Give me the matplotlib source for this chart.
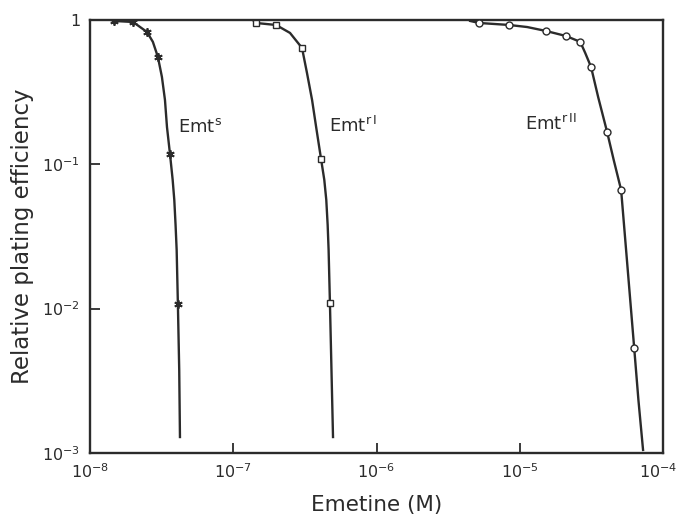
import matplotlib.pyplot as plt
import matplotlib.transforms as mtransforms

# measured points (emetine concentration in M, relative plating efficiency)
s_x = [1.47e-8, 2.0e-8, 2.5e-8, 2.98e-8, 3.62e-8, 4.11e-8]
s_y = [0.984, 0.968, 0.826, 0.555, 0.118, 0.0108]

r1_x = [1.44e-7, 1.99e-7, 3.02e-7, 4.10e-7, 4.73e-7]
r1_y = [0.953, 0.923, 0.640, 0.109, 0.0109]

r2_x = [5.2e-6, 8.41e-6, 1.52e-5, 2.1e-5, 2.64e-5, 3.14e-5, 4.06e-5, 5.09e-5, 6.28e-5]
r2_y = [0.953, 0.923, 0.839, 0.774, 0.705, 0.472, 0.168, 0.0664, 5.33e-3]

# hand drawn curves
s_cx = [1.4e-8, 1.47e-8, 2.0e-8, 2.5e-8, 2.75e-8, 2.98e-8, 3.18e-8, 3.34e-8, 3.45e-8,
        3.62e-8, 3.78e-8, 3.88e-8, 3.96e-8, 4.03e-8, 4.11e-8, 4.20e-8, 4.25e-8]
s_cy = [1.0, 0.984, 0.968, 0.826, 0.705, 0.555, 0.403, 0.279, 0.181,
        0.118, 0.078, 0.0566, 0.038, 0.0255, 0.0108, 3.75e-3, 1.29e-3]

r1_cx = [1.37e-7, 1.44e-7, 1.99e-7, 2.49e-7, 3.02e-7, 3.27e-7, 3.55e-7, 3.79e-7,
         4.10e-7, 4.32e-7, 4.46e-7, 4.56e-7, 4.63e-7, 4.73e-7, 4.97e-7]
r1_cy = [1.0, 0.953, 0.923, 0.813, 0.640, 0.430, 0.279, 0.181,
         0.109, 0.078, 0.0567, 0.038, 0.0255, 0.0109, 1.29e-3]

r2_cx = [4.5e-6, 5.2e-6, 8.41e-6, 1.125e-5, 1.52e-5, 2.1e-5, 2.64e-5, 2.86e-5, 3.14e-5,
         3.52e-5, 4.06e-5, 4.52e-5, 5.09e-5, 5.64e-5, 6.28e-5, 6.72e-5, 7.24e-5]
r2_cy = [0.984, 0.953, 0.923, 0.893, 0.839, 0.774, 0.705, 0.590, 0.472,
         0.292, 0.168, 0.107, 0.0664, 0.0194, 5.33e-3, 2.33e-3, 1.05e-3]

xticks = [1e-8, 1e-7, 1e-6, 1e-5, 1e-4]
xlabels = ['$10^{-8}$', '$10^{-7}$', '$10^{-6}$', '$10^{-5}$', '$10^{-4}$']
yticks = [1e-3, 1e-2, 1e-1, 1]
ylabels = ['$10^{-3}$', '$10^{-2}$', '$10^{-1}$', '1']

c = '#2b2b2b'
plt.rcParams['font.family'] = ['DejaVu Sans']
plt.rcParams['mathtext.fontset'] = 'dejavusans'

fig = plt.figure(figsize=(6.76, 5.18), dpi=100)
ax = fig.add_axes([0.133, 0.1255, 0.848, 0.836])

ax.plot(s_cx, s_cy, color=c, lw=1.7, zorder=2)
ax.plot(r1_cx, r1_cy, color=c, lw=1.7, zorder=2)
ax.plot(r2_cx, r2_cy, color=c, lw=1.7, zorder=2)

ax.plot(s_x, s_y, ls='none', marker=(6, 2, 0), ms=6, mec=c, mew=1.3, zorder=3)
ax.plot(r1_x, r1_y, ls='none', marker='s', ms=5, mfc='white', mec=c, mew=1.0, zorder=3)
ax.plot(r2_x, r2_y, ls='none', marker='o', ms=5, mfc='white', mec=c, mew=1.0, zorder=3)

ax.set_xscale('log')
ax.set_yscale('log')
ax.set_xlim(1e-8, 1e-4)
ax.set_ylim(1e-3, 1)
ax.set_xticks(xticks)
ax.set_xticklabels(xlabels)
ax.set_yticks(yticks)
ax.set_yticklabels(ylabels)
ax.minorticks_off()
ax.tick_params(direction='in', length=7, width=1.3, color=c, labelcolor=c, labelsize=11.5, pad=7)

# keep the last x label inside the picture
lab = ax.get_xticklabels()[-1]
lab.set_transform(lab.get_transform() + mtransforms.ScaledTranslation(-5 / 100, 0, fig.dpi_scale_trans))

for sp in ax.spines.values():
    sp.set_linewidth(1.7)
    sp.set_color(c)

ax.text(4.1e-8, 0.168, 'Emt$^{\\mathrm{s}}$', fontsize=13, color=c, va='baseline')
ax.text(4.66e-7, 0.168, 'Emt$^{\\mathrm{r}\\,\\mathrm{I}}$', fontsize=13, color=c, va='baseline')
ax.text(1.09e-5, 0.173, 'Emt$^{\\mathrm{r}\\,\\mathrm{II}}$', fontsize=13, color=c, va='baseline')

ax.set_xlabel('Emetine (M)', fontsize=15.5, color=c, labelpad=10)
ax.set_ylabel('Relative plating efficiency', fontsize=16.5, color=c, labelpad=6)

fig.savefig('out.png', dpi=100)
